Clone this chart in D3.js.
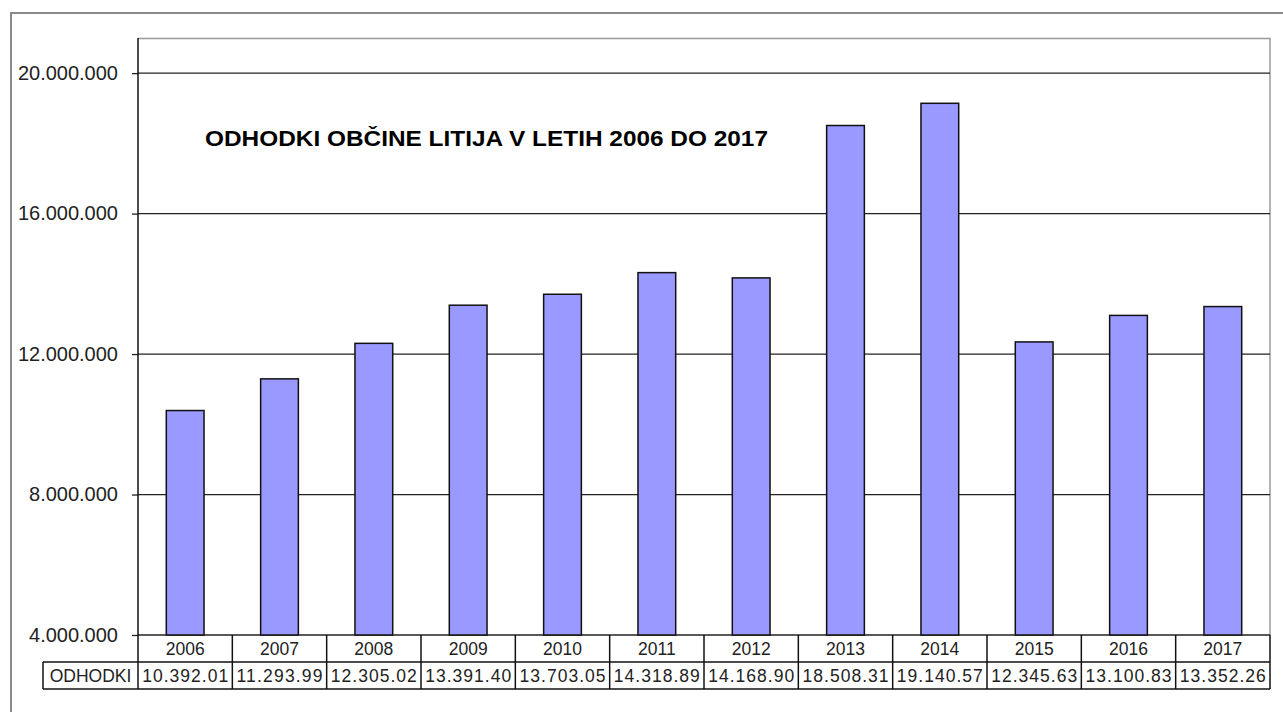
<!DOCTYPE html>
<html>
<head>
<meta charset="utf-8">
<script src="https://cdn.jsdelivr.net/npm/d3@7"></script>
<style>
  body { margin: 0; background: #fff; }
  svg { display: block; font-family: "Liberation Sans", Arial, sans-serif; }
</style>
</head>
<body>
<div id="chart"></div>
<script>
// chart data
var years = ["2006", "2007", "2008", "2009", "2010", "2011", "2012", "2013", "2014", "2015", "2016", "2017"];
var odhodki = [10392010, 11293990, 12305020, 13391400, 13703050, 14318890, 14168900, 18508310, 19140570, 12345630, 13100830, 13352260];
var tableLabels = ["10.392.01", "11.293.99", "12.305.02", "13.391.40", "13.703.05", "14.318.89", "14.168.90", "18.508.31", "19.140.57", "12.345.63", "13.100.83", "13.352.26"];
var yTicks = [4000000, 8000000, 12000000, 16000000, 20000000];
var seriesName = "ODHODKI";
var title = "ODHODKI OBČINE LITIJA V LETIH 2006 DO 2017";

var svgWidth = 1283;
var svgHeight = 712;

// plot area
var margin = { top: 38, left: 138, right: 13, bottom: 77 };
var width = svgWidth - margin.left - margin.right;
var height = svgHeight - margin.top - margin.bottom;

var svg = d3.select("#chart")
    .append("svg")
    .attr("width", svgWidth)
    .attr("height", svgHeight);

// outer frame (runs off the page on the right and bottom)
svg.append("rect")
    .attr("x", 11)
    .attr("y", 13)
    .attr("width", 1400)
    .attr("height", 900)
    .attr("fill", "none")
    .attr("stroke", "#8a8a8a")
    .attr("stroke-width", 2);

var chartGroup = svg.append("g")
    .attr("transform", `translate(${margin.left}, ${margin.top})`);

var x = d3.scaleBand()
    .domain(years)
    .range([0, width])
    .paddingInner(0.6)
    .paddingOuter(0.3);

var y = d3.scaleLinear()
    .domain([4000000, 21000000])
    .range([height, 0]);

// plot border top/right
chartGroup.append("path")
    .attr("d", `M0,0.5H${width}V${height}`)
    .attr("fill", "none")
    .attr("stroke", "#999")
    .attr("stroke-width", 1.5);

// gridlines
chartGroup.selectAll(".grid")
    .data(yTicks)
    .enter()
    .append("line")
    .attr("class", "grid")
    .attr("x1", 0)
    .attr("x2", width)
    .attr("y1", d => y(d))
    .attr("y2", d => y(d))
    .attr("stroke", "#222")
    .attr("stroke-width", 1.3);

// left axis
var fmt = d => d3.format(",")(d).replace(/,/g, ".");
var leftAxis = d3.axisLeft(y)
    .tickValues(yTicks)
    .tickFormat(fmt)
    .tickSize(6)
    .tickPadding(14);

var yAxisG = chartGroup.append("g").call(leftAxis);
yAxisG.select(".domain").remove();
yAxisG.selectAll("line").attr("stroke", "#222").attr("stroke-width", 1.3);
yAxisG.selectAll("text")
    .attr("fill", "#222")
    .style("font-size", "20px");

// bars
chartGroup.selectAll(".bar")
    .data(odhodki)
    .enter()
    .append("rect")
    .attr("class", "bar")
    .attr("x", (d, i) => x(years[i]))
    .attr("y", d => y(d))
    .attr("width", x.bandwidth())
    .attr("height", d => height - y(d))
    .attr("fill", "#9999ff")
    .attr("stroke", "#111")
    .attr("stroke-width", 1.5);

// data table below
var rowH = 27;
var tableLeft = 43 - margin.left;
var step = x.step();

var table = chartGroup.append("g")
    .attr("transform", `translate(0, ${height})`);

// horizontal lines
table.append("line")
    .attr("x1", tableLeft).attr("x2", width)
    .attr("y1", rowH).attr("y2", rowH);
table.append("line")
    .attr("x1", tableLeft).attr("x2", width)
    .attr("y1", 2 * rowH).attr("y2", 2 * rowH);
table.append("line")
    .attr("x1", tableLeft).attr("x2", tableLeft)
    .attr("y1", rowH).attr("y2", 2 * rowH);

// vertical lines
table.selectAll(".vline")
    .data(d3.range(years.length + 1))
    .enter()
    .append("line")
    .attr("class", "vline")
    .attr("x1", i => i * step)
    .attr("x2", i => i * step)
    .attr("y1", i => (i === 0 ? -height : 0))
    .attr("y2", 2 * rowH);

table.selectAll("line")
    .attr("stroke", "#111")
    .attr("stroke-width", 1.5);

table.selectAll(".year")
    .data(years)
    .enter()
    .append("text")
    .attr("class", "year")
    .attr("x", d => x(d) + x.bandwidth() / 2)
    .attr("y", rowH / 2 + 6)
    .attr("text-anchor", "middle")
    .style("font-size", "17.5px")
    .attr("fill", "#222")
    .text(d => d);

table.selectAll(".val")
    .data(tableLabels)
    .enter()
    .append("text")
    .attr("class", "val")
    .attr("x", (d, i) => x(years[i]) + x.bandwidth() / 2)
    .attr("y", rowH * 1.5 + 6)
    .attr("text-anchor", "middle")
    .style("font-size", "17.5px")
    .attr("textLength", 86)
    .attr("lengthAdjust", "spacing")
    .attr("fill", "#222")
    .text(d => d);

table.append("text")
    .attr("x", (tableLeft) / 2)
    .attr("y", rowH * 1.5 + 6)
    .attr("text-anchor", "middle")
    .style("font-size", "17.5px")
    .attr("fill", "#222")
    .text(seriesName);

// title
svg.append("text")
    .attr("x", 205)
    .attr("y", 146)
    .style("font-size", "22px")
    .style("font-weight", "bold")
    .attr("textLength", 563)
    .attr("lengthAdjust", "spacingAndGlyphs")
    .attr("fill", "#000")
    .text(title);
</script>
</body>
</html>
